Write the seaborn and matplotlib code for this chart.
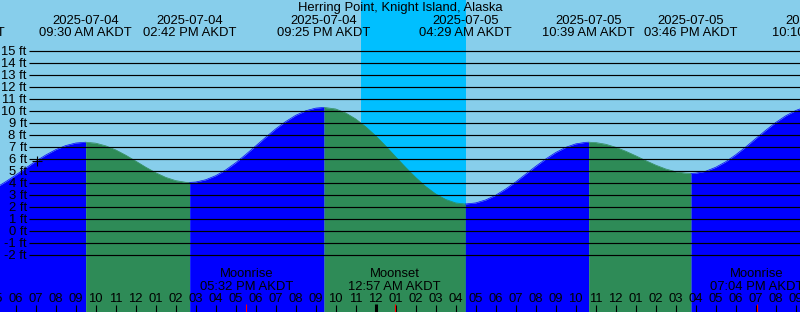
import numpy as np
import pandas as pd
import matplotlib
matplotlib.use("Agg")
import matplotlib.pyplot as plt
import seaborn as sns
from matplotlib.transforms import blended_transform_factory

# ---------------- data (hours since 2025-07-04 00:00 AKDT) ----------------
title = "Herring Point, Knight Island, Alaska"

tide_hours = [5, 5.5, 6, 6.5, 7, 7.5, 8, 8.5, 9, 9.5,
              10, 10.5, 11, 11.5, 12, 12.5, 13, 13.5, 14, 14.5, 14.7,
              15, 15.5, 16, 16.5, 17, 17.5, 18, 18.5, 19, 19.5, 20, 20.5, 21, 21.417,
              22, 22.5, 23, 23.5, 24, 24.5, 25, 25.5, 26, 26.5, 27, 27.5, 28, 28.483,
              29, 29.5, 30, 30.5, 31, 31.5, 32, 32.5, 33, 33.5, 34, 34.5, 34.65,
              35, 35.5, 36, 36.5, 37, 37.5, 38, 38.5, 39, 39.5, 39.767,
              40, 40.5, 41, 41.5, 42, 42.5, 43, 43.5, 44, 44.5, 45, 45.5, 46, 46.167]
tide_ft = [3.60, 4.11, 4.66, 5.24, 5.81, 6.33, 6.78, 7.12, 7.33, 7.40,
           7.32, 7.10, 6.76, 6.32, 5.83, 5.32, 4.86, 4.47, 4.20, 4.06, 4.05,
           4.08, 4.27, 4.61, 5.09, 5.69, 6.37, 7.09, 7.81, 8.51, 9.12, 9.64, 10.02, 10.24, 10.30,
           10.17, 9.84, 9.34, 8.69, 7.93, 7.08, 6.18, 5.30, 4.46, 3.71, 3.09, 2.63, 2.34, 2.25,
           2.34, 2.59, 2.98, 3.50, 4.09, 4.74, 5.39, 6.00, 6.54, 6.97, 7.26, 7.39, 7.40,
           7.37, 7.23, 6.98, 6.65, 6.27, 5.87, 5.49, 5.17, 4.94, 4.82, 4.80,
           4.82, 4.98, 5.31, 5.77, 6.35, 7.00, 7.70, 8.39, 9.04, 9.60, 10.04, 10.35, 10.49, 10.50]

tide_event_hours = [3.18, 9.5, 14.7, 21.417, 28.483, 34.65, 39.767, 46.167]
tide_event_dates = ["2025-07-04", "2025-07-04", "2025-07-04", "2025-07-04",
                    "2025-07-05", "2025-07-05", "2025-07-05", "2025-07-05"]
tide_event_times = ["03:11 AM AKDT", "09:30 AM AKDT", "02:42 PM AKDT", "09:25 PM AKDT",
                    "04:29 AM AKDT", "10:39 AM AKDT", "03:46 PM AKDT", "10:10 PM AKDT"]

moon_event_hours = [17.533, 24.95, 43.067]
moon_event_names = ["Moonrise", "Moonset", "Moonrise"]
moon_event_times = ["05:32 PM AKDT", "12:57 AM AKDT", "07:04 PM AKDT"]

night_start, night_end = 23.27, 28.52
midnight_hour = 24

ft_levels = [-2, -1, 0, 1, 2, 3, 4, 5, 6, 7, 8, 9, 10, 11, 12, 13, 14, 15]
ft_labels = ["-2 ft", "-1 ft", "0 ft", "1 ft", "2 ft", "3 ft", "4 ft", "5 ft", "6 ft",
             "7 ft", "8 ft", "9 ft", "10 ft", "11 ft", "12 ft", "13 ft", "14 ft", "15 ft"]

tick_hours = list(range(5, 46))
tick_labels = ["05", "06", "07", "08", "09", "10", "11", "12", "01", "02", "03", "04",
               "05", "06", "07", "08", "09", "10", "11", "12", "01", "02", "03", "04",
               "05", "06", "07", "08", "09", "10", "11", "12", "01", "02", "03", "04",
               "05", "06", "07", "08", "09"]

now_hour, now_ft = 7.07, 5.8

# ---------------- styling ----------------
SKY = "#87CEEB"
NIGHT = "#00BFFF"
RISE = "#0000FF"
FALL = "#2E8B57"
FS = 9.4

sns.set_theme(style="white")
plt.rcParams['font.family'] = ['Liberation Sans', 'DejaVu Sans']

W, H = 800, 312
fig = plt.figure(figsize=(W / 100, H / 100), dpi=100, facecolor=SKY)
ax = fig.add_axes([0, 0, 1, 1])
ax.set_axis_off()

X0 = 5.215
X1 = X0 + W / 20.0
Y0 = (231 - H) / 12.0
Y1 = 231 / 12.0
ax.set_xlim(X0, X1)
ax.set_ylim(Y0, Y1)

trans = blended_transform_factory(ax.transData, ax.transAxes)


def fy(p):
    return 1 - p / float(H)


# night band
ax.axvspan(night_start, night_end, color=NIGHT, lw=0, zorder=1)

# tide segments (rising / falling)
hrs = np.array(tide_hours)
ft = np.array(tide_ft)
d = np.sign(np.diff(ft))
ext_idx = [0] + [i for i in range(1, len(ft) - 1) if d[i - 1] != d[i]] + [len(ft) - 1]
rows = []
seg_colors = {}
for k in range(len(ext_idx) - 1):
    a, b = ext_idx[k], ext_idx[k + 1]
    color = RISE if ft[b] > ft[a] else FALL
    seg_colors[k] = color
    for j in range(a, b + 1):
        rows.append({"hours": hrs[j], "ft": ft[j], "segment": k})
df = pd.DataFrame(rows)

for k, g in df.groupby("segment"):
    ax.fill_between(g["hours"], g["ft"], Y0 - 2, color=seg_colors[k], lw=0, zorder=2)
sns.lineplot(data=df, x="hours", y="ft", hue="segment", palette=seg_colors,
             estimator=None, sort=False, legend=False, lw=0.5, ax=ax, zorder=2)
ax.set_axis_off()

# horizontal lines + labels
ax.hlines(ft_levels, X0 + 29 / 20.0, X1, colors="black", lw=0.85, zorder=3)
for lv, lab in zip(ft_levels, ft_labels):
    ypix = 231 - 12 * lv
    ax.text(X0 + 26.7 / 20.0, fy(ypix + 4.3), lab, transform=trans, ha="right",
            va="baseline", fontsize=FS, color="black", zorder=4)

# now marker
ax.plot([now_hour], [now_ft], marker="+", ms=7.5, mew=0.8, color="black", zorder=5)

# header
ax.text(0.5, fy(11.3), title, transform=ax.transAxes, ha="center", va="baseline",
        fontsize=FS, color="black", zorder=4)
for h, dt, tm in zip(tide_event_hours, tide_event_dates, tide_event_times):
    ax.text(h, fy(24.0), dt, transform=trans, ha="center", va="baseline",
            fontsize=FS, color="black", zorder=4, clip_on=False)
    ax.text(h, fy(36.0), tm, transform=trans, ha="center", va="baseline",
            fontsize=FS, color="black", zorder=4, clip_on=False)

# moon events
for h, nm, tm in zip(moon_event_hours, moon_event_names, moon_event_times):
    ax.text(h, fy(277.0), nm, transform=trans, ha="center", va="baseline",
            fontsize=FS, color="black", zorder=4)
    ax.text(h, fy(289.7), tm, transform=trans, ha="center", va="baseline",
            fontsize=FS, color="black", zorder=4)

# hour ticks and labels
ax.vlines(tick_hours, fy(H), fy(305), colors="black", lw=0.8, transform=trans, zorder=4)
ax.vlines([midnight_hour], fy(H), fy(304), colors="black", lw=2.2, transform=trans, zorder=4)
ax.vlines(moon_event_hours, fy(H), fy(304), colors="red", lw=0.8, transform=trans, zorder=5)
for h, lab in zip(tick_hours, tick_labels):
    ax.text(h, fy(302.3), lab, transform=trans, ha="center", va="baseline",
            fontsize=FS, color="black", zorder=4)

fig.savefig("out.png", dpi=100, facecolor=SKY)
